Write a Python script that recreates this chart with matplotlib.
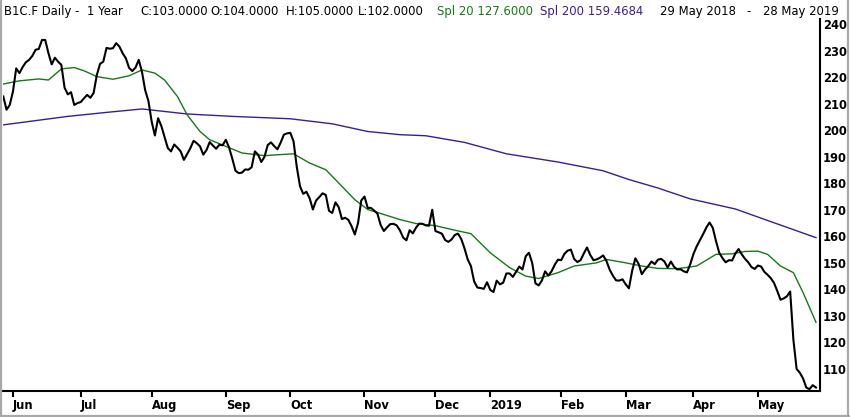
import numpy as np
import pandas as pd
import matplotlib
matplotlib.use('Agg')
import matplotlib.pyplot as plt
from matplotlib.lines import Line2D

# daily closes, 29 May 2018 .. 28 May 2019
close = [
    212.7, 207.7, 209.5, 214.6, 223.3, 221.5, 223.8, 225.6, 226.5, 228.0,
    230.3, 230.6, 234.0, 234.0, 229.0, 224.8, 227.3, 225.8, 224.6, 216.0,
    213.5, 214.3, 209.5, 210.2, 210.6, 212.0, 213.3, 212.2, 214.0, 220.8,
    225.0, 225.8, 231.0, 230.7, 230.9, 232.8, 231.5, 229.0, 227.1, 223.5,
    222.3, 223.6, 226.5, 222.0, 215.0, 211.0, 203.3, 198.0, 204.5, 201.6,
    197.5, 193.3, 192.0, 194.6, 193.4, 192.0, 188.8, 191.0, 193.2, 196.0,
    195.1, 193.9, 190.8, 192.5, 195.5, 194.2, 193.0, 194.5, 194.3, 196.4,
    193.5, 189.3, 184.7, 183.8, 184.0, 185.2, 185.1, 186.0, 192.0, 190.8,
    188.0, 190.0, 194.4, 195.4, 194.0, 192.8, 195.3, 198.3, 198.8, 199.0,
    195.8, 186.2, 178.9, 176.0, 176.8, 174.3, 170.1, 173.5, 174.8, 176.2,
    175.6, 169.6, 168.8, 172.8, 171.0, 166.5, 167.0, 166.2, 163.8, 160.7,
    165.0, 173.5, 175.0, 170.7, 170.7, 169.7, 168.6, 164.3, 162.0, 163.4,
    164.6, 164.7, 164.1, 162.2, 159.5, 158.5, 162.3, 161.1, 163.3, 164.8,
    164.7, 164.1, 164.0, 170.0, 162.0, 161.5, 161.0, 158.6, 157.9, 158.8,
    160.5, 161.0, 159.0, 155.5, 151.3, 148.8, 143.0, 140.7, 140.5, 140.2,
    142.7, 139.8, 139.0, 143.3, 141.9, 142.5, 146.0, 146.0, 144.7, 146.6,
    148.6, 147.5, 152.5, 153.8, 150.0, 142.3, 141.5, 143.3, 146.8, 145.2,
    146.8, 149.3, 151.2, 151.0, 153.4, 154.6, 155.0, 151.5, 150.3, 151.0,
    153.5, 155.8, 153.0, 151.0, 151.3, 151.9, 152.8, 150.8, 147.5, 145.2,
    143.4, 143.3, 143.8, 141.9, 140.4, 147.0, 151.7, 149.6, 145.7, 147.5,
    148.8, 150.5, 149.5, 151.2, 151.5, 150.5, 148.2, 150.5, 148.5, 147.5,
    147.6, 146.8, 146.4, 149.4, 153.3, 156.2, 158.5, 160.8, 163.3, 165.2,
    163.2, 158.2, 153.8, 151.8, 150.2, 151.0, 150.9, 153.5, 155.2, 153.2,
    151.5, 150.2, 148.4, 147.7, 149.0, 148.6, 146.6, 145.5, 144.2, 142.4,
    139.4, 136.1, 136.6, 137.4, 139.2, 121.0, 110.0, 108.6, 106.4, 103.0,
    102.4, 103.9, 103.0,
]

# Spl 20 line (trading day index, value)
spl20_day = [0, 5, 11, 14, 18, 22, 25, 29, 34, 39, 43, 47, 50, 54, 57, 61, 64, 69, 74, 81,
             86, 90, 95, 100, 104, 109, 113, 117, 123, 128, 134, 140, 145, 151, 157, 162, 166, 172, 177, 184,
             187, 193, 198, 203, 209, 215, 221, 226, 230, 234, 237, 241, 245, 248, 252]
spl20 = [217.4, 218.6, 219.3, 218.9, 223.1, 223.6, 222.4, 220.2, 219.2, 220.5,
         222.7, 221.5, 218.9, 212.7, 205.8, 199.5, 196.4, 193.9, 191.4, 190.4,
         190.8, 191.1, 187.6, 185.1, 180.1, 173.8, 170.1, 168.6, 166.3, 164.8,
         164.0, 162.3, 161.0, 153.8, 148.2, 145.0, 144.1, 146.3, 148.8, 150.0,
         151.3, 150.0, 148.8, 147.9, 147.8, 148.8, 153.2, 153.4, 154.3, 154.4,
         153.2, 148.8, 146.3, 138.8, 127.6]

# Spl 200 line
spl200_day = [0, 20, 32, 43, 57, 71, 89, 102, 113, 123, 131, 143, 156, 172, 186, 194, 203, 213, 227, 239, 252]
spl200 = [202.0, 205.2, 206.7, 208.0, 206.1, 205.2, 204.3, 202.4, 199.5, 198.3, 197.9,
          195.4, 191.1, 188.0, 184.7, 181.4, 178.2, 174.1, 170.3, 165.1, 159.5]

yticks = list(range(110, 241, 10))
holidays = ['2018-12-24', '2018-12-25', '2018-12-26', '2018-12-31',
            '2019-01-01', '2019-04-19', '2019-04-22', '2019-05-01']

GREEN = '#157a15'
PURPLE = '#3a1e98'

dates = pd.bdate_range('2018-05-29', '2019-05-28')
dates = dates[~dates.isin(pd.to_datetime(holidays))]

# first trading day of each month
month_idx = [i for i in range(1, len(dates)) if dates[i].month != dates[i - 1].month]
month_lbl = [str(dates[i].year) if dates[i].month == 1 else dates[i].strftime('%b') for i in month_idx]

W, H = 850, 417
fig = plt.figure(figsize=(W / 100, H / 100), dpi=100)
ax = fig.add_axes([2.5 / W, 26 / H, 817.5 / W, 372 / H])

ax.plot(spl200_day, spl200, color=PURPLE, lw=1.0)
ax.plot(spl20_day, spl20, color=GREEN, lw=1.0)
ax.plot(np.arange(len(close)), close, color='black', lw=1.5)

ax.set_xlim(-0.25, 253.25)
ax.set_ylim(101.7, 241.9)

for s in ['top', 'left']:
    ax.spines[s].set_visible(False)
for s in ['bottom', 'right']:
    ax.spines[s].set_linewidth(1.5)
    ax.spines[s].set_color('black')

ax.yaxis.tick_right()
ax.set_yticks(yticks)
ax.tick_params(axis='y', length=0, pad=2, labelsize=8.3)
ax.set_xticks(month_idx)
ax.set_xticklabels(month_lbl, ha='left')
ax.tick_params(axis='x', direction='out', length=4, width=1.5, pad=1.5, labelsize=8.3)
for lb in ax.get_xticklabels() + ax.get_yticklabels():
    lb.set_fontweight('bold')

# header line
header = [
    ('B1C.F Daily -  1 Year', 4, 'black'),
    ('C:103.0000', 140, 'black'),
    ('O:104.0000', 210.7, 'black'),
    ('H:105.0000', 286, 'black'),
    ('L:102.0000', 358, 'black'),
    ('Spl 20 127.6000', 436.7, GREEN),
    ('Spl 200 159.4684', 540, PURPLE),
    ('29 May 2018', 660, 'black'),
    ('-', 746.7, 'black'),
    ('28 May 2019', 763.3, 'black'),
]
for txt, x, c in header:
    fig.text(x / W, 1 - 11.5 / H, txt, color=c, fontsize=8.4, ha='left', va='center')

# grey frame round the picture
gc = '#a8a8a8'
fig.add_artist(Line2D([1.2 / W, 1.2 / W], [0, 1], color=gc, lw=1.6))
fig.add_artist(Line2D([0, 1], [1.5 / H, 1.5 / H], color=gc, lw=1.6))
fig.add_artist(Line2D([848 / W, 848 / W], [0, 1], color=gc, lw=1.6))

fig.savefig('out.png', dpi=100)
